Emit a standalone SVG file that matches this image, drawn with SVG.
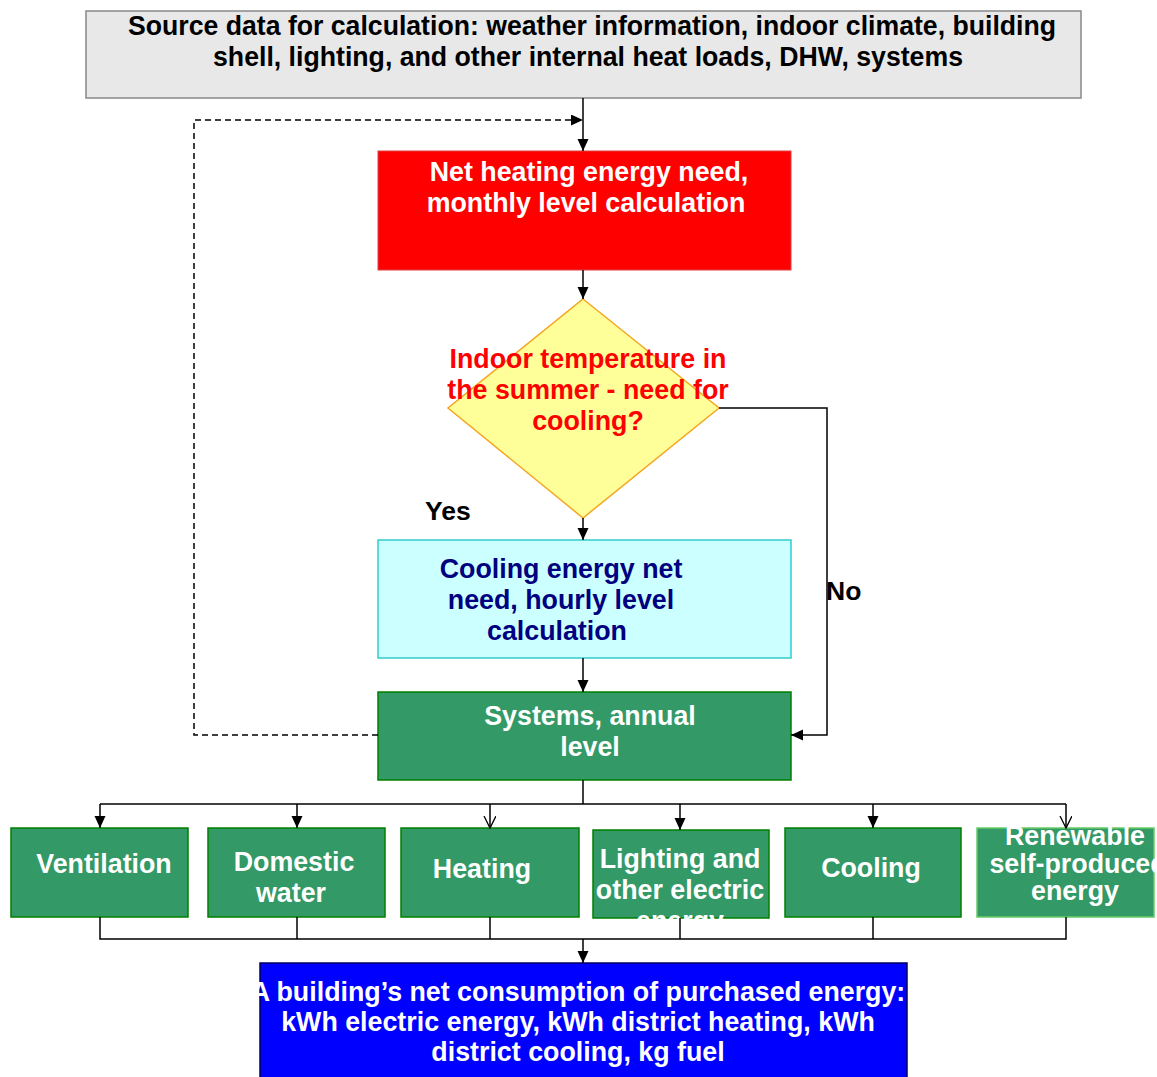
<svg xmlns="http://www.w3.org/2000/svg" width="1157" height="1077" viewBox="0 0 1157 1077">
  <style>
    text { font-family: "Liberation Sans", Arial, sans-serif; font-weight: bold; font-size: 26.8px; text-anchor: middle; }
    .narrow { font-size: 28px; fill: #000; }
    .w { fill: #ffffff; }
    .sys { fill: #339966; stroke: #008000; stroke-width: 1.5; }
    .ln { fill: none; stroke: #000; stroke-width: 1.5; }
    .lbl { fill: #000; text-anchor: start; font-size: 26.5px; }
  </style>
  <defs>
    <marker id="arrow" markerWidth="14" markerHeight="14" refX="12" refY="5.5" orient="auto" markerUnits="userSpaceOnUse">
      <path d="M0,0 L12,5.5 L0,11 Z" fill="#000"/>
    </marker>
    <marker id="open" markerWidth="14" markerHeight="14" refX="12" refY="6" orient="auto" markerUnits="userSpaceOnUse">
      <path d="M0,0 L12,6 L0,12" fill="none" stroke="#000" stroke-width="1.3"/>
    </marker>
  </defs>

  <!-- input data -->
  <g id="source">
    <rect x="86" y="11" width="995" height="87" fill="#e8e8e8" stroke="#888" stroke-width="1.5"/>
    <text class="narrow" x="592" y="35" textLength="928" lengthAdjust="spacingAndGlyphs">Source data for calculation: weather information, indoor climate, building</text>
    <text class="narrow" x="588" y="66" textLength="750" lengthAdjust="spacingAndGlyphs">shell, lighting, and other internal heat loads, DHW, systems</text>
  </g>

  <g id="heating-need">
    <rect x="378" y="151" width="413" height="119" fill="#ff0000" stroke="#e04040" stroke-width="1"/>
    <text class="w" x="589" y="181">Net heating energy need,</text>
    <text class="w" x="586" y="212">monthly level calculation</text>
  </g>

  <g id="decision">
    <polygon points="583,299 719,408 583,518 448,408" fill="#ffff99" stroke="#f5a623" stroke-width="1.5"/>
    <text x="588" y="368" fill="#ff0000">Indoor temperature in</text>
    <text x="588" y="399" fill="#ff0000">the summer - need for</text>
    <text x="588" y="430" fill="#ff0000">cooling?</text>
  </g>

  <g id="cooling-need">
    <rect x="378" y="540" width="413" height="118" fill="#ccffff" stroke="#33cccc" stroke-width="1.5"/>
    <text x="561" y="578" fill="#000080">Cooling energy net</text>
    <text x="561" y="609" fill="#000080">need, hourly level</text>
    <text x="557" y="640" fill="#000080">calculation</text>
  </g>

  <g id="systems">
    <rect class="sys" x="378" y="692" width="413" height="88"/>
    <text class="w" x="590" y="725">Systems, annual</text>
    <text class="w" x="590" y="756">level</text>
  </g>

  <g id="ventilation">
    <rect class="sys" x="11" y="828" width="177" height="89"/>
    <text class="w" x="104" y="873">Ventilation</text>
  </g>
  <g id="domestic-water">
    <rect class="sys" x="208" y="828" width="177" height="89"/>
    <text class="w" x="294" y="871">Domestic</text>
    <text class="w" x="291" y="902">water</text>
  </g>
  <g id="heating">
    <rect class="sys" x="401" y="828" width="178" height="89"/>
    <text class="w" x="482" y="878">Heating</text>
  </g>
  <g id="lighting">
    <rect class="sys" x="593" y="830" width="176" height="88"/>
    <text class="w" x="680" y="868">Lighting and</text>
    <text class="w" x="680" y="899">other electric</text>
    <text class="w" x="680" y="930">energy</text>
  </g>
  <g id="cooling">
    <rect class="sys" x="785" y="828" width="176" height="89"/>
    <text class="w" x="871" y="877">Cooling</text>
  </g>
  <g id="renewable">
    <rect x="977" y="828" width="177" height="89" fill="#339966" stroke="#66cc66" stroke-width="1.5"/>
    <text class="w" x="1075" y="845">Renewable</text>
    <text class="w" x="1078" y="873">self-produced</text>
    <text class="w" x="1075" y="900">energy</text>
  </g>

  <g id="result">
    <rect x="260" y="963" width="647" height="120" fill="#0000ff" stroke="#000060" stroke-width="1.5"/>
    <text class="w" x="578" y="1001">A building’s net consumption of purchased energy:</text>
    <text class="w" x="578" y="1031">kWh electric energy, kWh district heating, kWh</text>
    <text class="w" x="578" y="1061">district cooling, kg fuel</text>
  </g>

  <g id="connectors">
    <line class="ln" x1="583" y1="98" x2="583" y2="151" marker-end="url(#arrow)"/>
    <polyline class="ln" points="378,735 194,735 194,120 583,120" stroke-dasharray="6,4" marker-end="url(#arrow)"/>
    <line class="ln" x1="583" y1="270" x2="583" y2="299" marker-end="url(#arrow)"/>
    <line class="ln" x1="583" y1="518" x2="583" y2="540" marker-end="url(#arrow)"/>
    <polyline class="ln" points="719,408 827,408 827,735 791,735" stroke="#333" marker-end="url(#arrow)"/>
    <line class="ln" x1="583" y1="658" x2="583" y2="692" marker-end="url(#arrow)"/>
    <text class="lbl" x="425" y="520">Yes</text>
    <text class="lbl" x="826" y="600">No</text>

    <!-- fan-out to the systems -->
    <line class="ln" x1="583" y1="780" x2="583" y2="804" stroke-width="2.5"/>
    <line class="ln" x1="100" y1="804" x2="1066" y2="804"/>
    <line class="ln" x1="100" y1="804" x2="100" y2="828" marker-end="url(#arrow)"/>
    <line class="ln" x1="297" y1="804" x2="297" y2="828" marker-end="url(#arrow)"/>
    <line class="ln" x1="490" y1="804" x2="490" y2="828" marker-end="url(#open)"/>
    <line class="ln" x1="680" y1="804" x2="680" y2="830" marker-end="url(#arrow)"/>
    <line class="ln" x1="873" y1="804" x2="873" y2="828" marker-end="url(#arrow)"/>
    <line class="ln" x1="1066" y1="804" x2="1066" y2="828" marker-end="url(#open)"/>

    <!-- fan-in to purchased energy -->
    <polyline class="ln" points="100,917 100,939 1066,939 1066,917"/>
    <line class="ln" x1="297" y1="917" x2="297" y2="939"/>
    <line class="ln" x1="490" y1="917" x2="490" y2="939"/>
    <line class="ln" x1="680" y1="918" x2="680" y2="939"/>
    <line class="ln" x1="873" y1="917" x2="873" y2="939"/>
    <line class="ln" x1="583" y1="939" x2="583" y2="963" stroke-width="2" marker-end="url(#arrow)"/>
  </g>
</svg>
